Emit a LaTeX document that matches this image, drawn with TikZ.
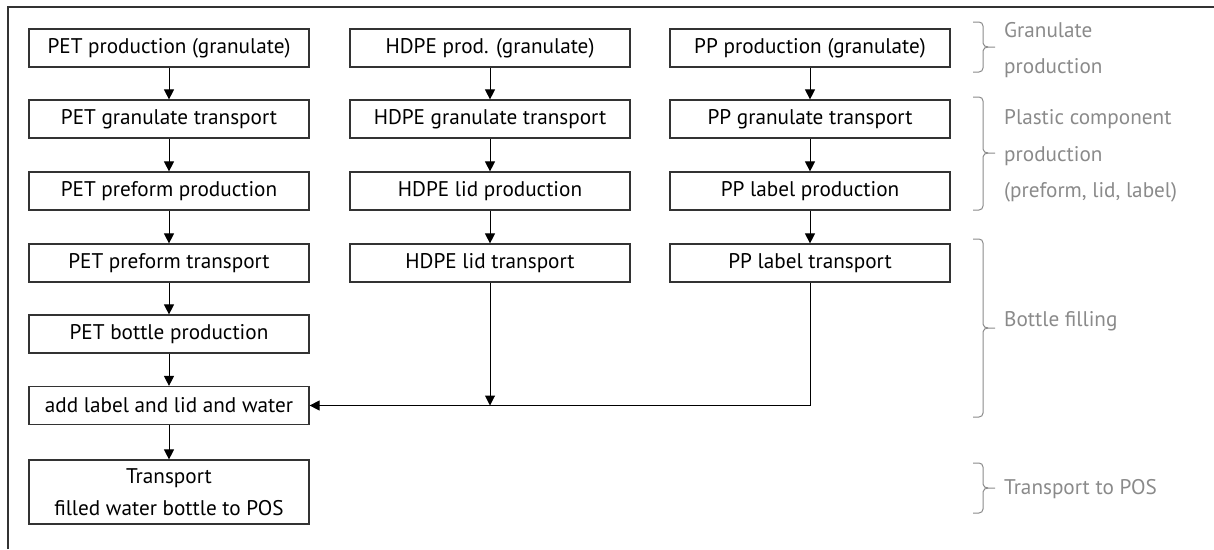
\documentclass[tikz,border=0pt]{standalone}
\usepackage{fontspec}
\setmainfont{PT Sans}
\usetikzlibrary{arrows.meta}
\definecolor{boxline}{HTML}{333333}
\definecolor{graytext}{HTML}{8A8A8A}
\newcommand\grbrace[3]{%
  \draw[bracestyle] (973,#1) -- (979,#1) to[out=0,in=90] (983,{#1+4}) -- (983,{#3-4})
    to[out=-90,in=180] (988,#3) -- (995,#3);
  \draw[bracestyle] (988,#3) to[out=180,in=90] (983,{#3+4}) -- (983,{#2-4})
    to[out=-90,in=0] (979,#2) -- (973,#2);
}
\begin{document}
\begin{tikzpicture}[x=1pt,y=-1pt,
  stepbox/.style={draw=boxline,line width=1.2pt,minimum width=280pt,minimum height=38pt,
    inner sep=0pt,font=\fontsize{21.2}{32}\selectfont,align=center},
  flow/.style={draw=black,line width=1pt,-{Triangle[length=10pt,width=10pt]}},
  bracestyle/.style={draw=graytext,line width=1pt},
  grlabel/.style={anchor=west,text=graytext,font=\fontsize{21.2}{36.5}\selectfont,align=left,inner sep=0pt}]
\useasboundingbox (0,0) rectangle (1214,549);
\draw[boxline,line width=1.3pt] (8,549) -- (8,7) -- (1214,7);

% column 1
\node[stepbox] (p1) at (169,48) {PET production (granulate)};
\node[stepbox] (p2) at (169,119) {PET granulate transport};
\node[stepbox] (p3) at (169,191) {PET preform production};
\node[stepbox] (p4) at (169,263) {PET preform transport};
\node[stepbox] (p5) at (169,334) {PET bottle production};
\node[stepbox] (p6) at (169,405.5) {add label and lid and water};
\node[stepbox,minimum height=64pt] (p7) at (169,492) {Transport\\filled water bottle to POS};

% column 2
\node[stepbox] (h1) at (490,48) {HDPE prod. (granulate)};
\node[stepbox] (h2) at (490,119) {HDPE granulate transport};
\node[stepbox] (h3) at (490,191) {HDPE lid production};
\node[stepbox] (h4) at (490,263) {HDPE lid transport};

% column 3
\node[stepbox] (q1) at (810,48) {PP production (granulate)};
\node[stepbox] (q2) at (810,119) {PP granulate transport};
\node[stepbox] (q3) at (810,191) {PP label production};
\node[stepbox] (q4) at (810,263) {PP label transport};

\coordinate (hj) at (h4.south |- p6.east);
\coordinate (qj) at (q4.south |- p6.east);

\draw[flow] (p1) -- (p2);
\draw[flow] (p2) -- (p3);
\draw[flow] (p3) -- (p4);
\draw[flow] (p4) -- (p5);
\draw[flow] (p5) -- (p6);
\draw[flow] (p6) -- (p7);
\draw[flow] (h1) -- (h2);
\draw[flow] (h2) -- (h3);
\draw[flow] (h3) -- (h4);
\draw[flow] (q1) -- (q2);
\draw[flow] (q2) -- (q3);
\draw[flow] (q3) -- (q4);
\draw[flow] (h4.south) -- (hj);
\draw[flow] (q4.south) -- (qj) -- (p6.east);

% brackets and labels
\grbrace{22}{72}{47}
\grbrace{97}{210}{153}
\grbrace{239}{417}{328}
\grbrace{463}{513}{488}
\node[grlabel] (l1) at (1004,50) {Granulate\\production};
\node[grlabel] (l2) at (1004,156) {Plastic component\\production\\(preform, lid, label)};
\node[grlabel] (l3) at (1004,321) {Bottle filling};
\node[grlabel] (l4) at (1004,489) {Transport to POS};
\end{tikzpicture}
\end{document}
